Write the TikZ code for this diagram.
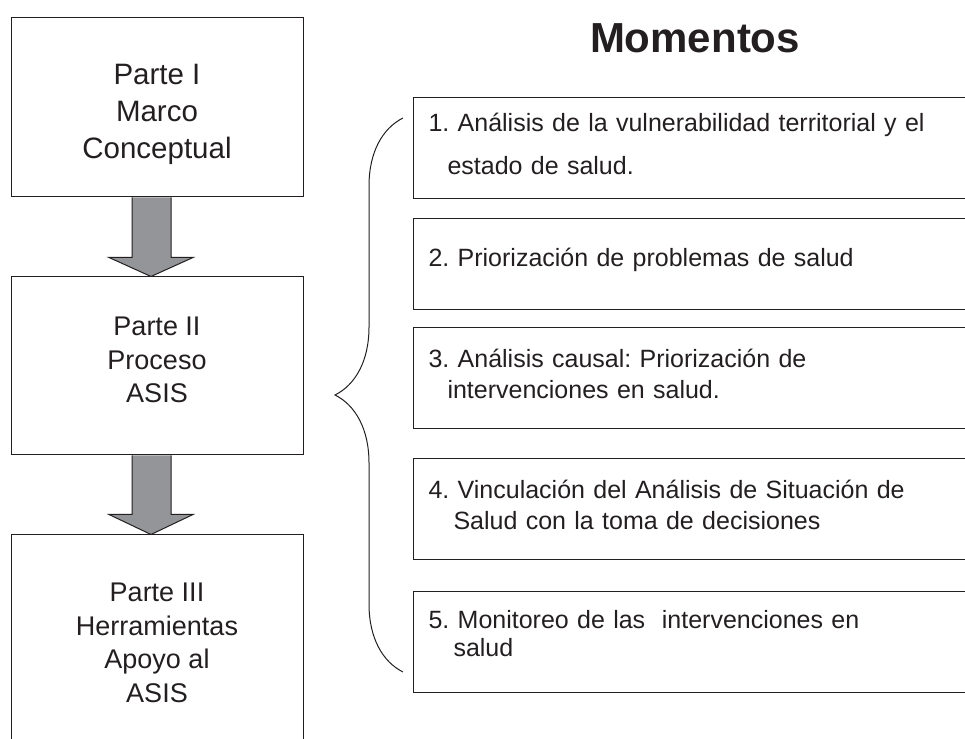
\documentclass[tikz,border=0pt]{standalone}
\usepackage{fontspec}
\setmainfont{Liberation Sans}
\usepackage{tikz}
\usetikzlibrary{positioning,calc,decorations.pathreplacing}
\definecolor{arrowgray}{RGB}{147,149,152}
\definecolor{inkgray}{RGB}{35,31,32}
\frenchspacing

\begin{document}
\begin{tikzpicture}[x=1pt,y=1pt,line width=1pt,color=inkgray,
  part node/.style={rectangle,draw,minimum width=292pt,align=center,inner sep=0pt,
        font=\fontsize{27}{33.5}\selectfont},
  moment node/.style={rectangle,draw,text width=670pt,inner xsep=15pt,inner ysep=2pt,
        minimum height=101pt,align=left,font=\fontsize{25}{31}\selectfont},
  title node/.style={font=\fontsize{42}{50}\selectfont\bfseries},
  arrow node/.style={draw,fill=arrowgray,line width=1pt,line join=miter}]
  \useasboundingbox (0,0) rectangle (965,738);
  \clip (0,0) rectangle (965,738);

  % left column
  \node[part node,minimum height=179pt,text height=108pt,font=\fontsize{29.5}{37}\selectfont] (p1) at (157,630.5)
    {Parte I\\Marco\\Conceptual};
  \node[part node,minimum height=178pt,text depth=12pt] (p2) [below=79pt of p1] {Parte II\\Proceso\\ASIS};
  \node[part node,minimum height=216pt] (p3) [below=79pt of p2]
    {Parte III\\Herramientas\\Apoyo al\\ASIS};

  % block arrows
  \draw[arrow node] ($(p1.south)+(-25,0)$) -- ($(p2.north)+(-25,19)$) -- ($(p2.north)+(-48,19)$)
    -- ($(p2.north)+(-6,0)$) -- ($(p2.north)+(36,19)$) -- ($(p2.north)+(14,19)$) -- ($(p1.south)+(14,0)$);
  \draw[arrow node] ($(p2.south)+(-25,0)$) -- ($(p3.north)+(-25,20)$) -- ($(p3.north)+(-48,20)$)
    -- ($(p3.north)+(-6,0)$) -- ($(p3.north)+(36,20)$) -- ($(p3.north)+(14,20)$) -- ($(p2.south)+(14,0)$);

  % right column
  \node[title node] (t) at (695,700) {Momentos};
  \node[moment node,anchor=north west,text depth=51pt] (m1) at (413,641)
    {1. Análisis de la vulnerabilidad territorial y el\\[12pt]\hspace*{19pt}estado de salud.};
  \node[moment node,minimum height=91pt,text depth=13pt] (m2) [below=19pt of m1]
    {2. Priorización de problemas de salud};
  \node[moment node,text depth=39pt] (m3) [below=17pt of m2]
    {3. Análisis causal: Priorización de\\\hspace*{19pt}intervenciones en salud.};
  \node[moment node,text depth=39pt] (m4) [below=29pt of m3]
    {4. Vinculación del Análisis de Situación de\\\hspace*{25pt}Salud con la toma de decisiones};
  \node[moment node,text depth=46pt] (m5) [below=31pt of m4]
    {5. Monitoreo de las\ \ intervenciones en\\[-3pt]\hspace*{25pt}salud};

  % brace
  \coordinate (brace top) at ($(m1.north west)+(-10,-21)$);
  \coordinate (brace bot) at ($(m5.south west)+(-10,21)$);
  \draw[decorate,decoration={brace,amplitude=68pt}] (brace bot) -- (brace top);
\end{tikzpicture}
\end{document}
